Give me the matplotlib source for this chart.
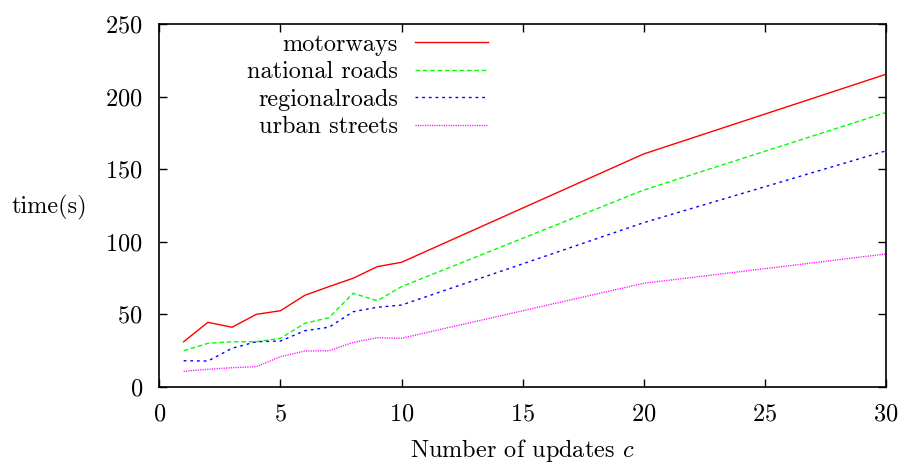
import numpy as np
import matplotlib
matplotlib.use('Agg')
import matplotlib.pyplot as plt

# number of updates
updates = [1, 2, 3, 4, 5, 6, 7, 8, 9, 10, 20, 30]

motorways = [31.0, 44.4, 41.0, 49.9, 52.4, 63.0, 69.0, 74.8, 82.8, 85.8, 160.5, 215.4]
national_roads = [24.8, 29.9, 31.0, 31.0, 33.4, 43.7, 47.6, 64.4, 59.3, 69.0, 135.6, 189.0]
regional_roads = [17.9, 17.7, 26.5, 31.0, 31.5, 38.6, 41.0, 51.7, 54.8, 56.3, 113.1, 162.6]
urban_streets = [10.6, 12.0, 13.1, 13.8, 20.7, 24.6, 24.8, 30.5, 33.8, 33.4, 71.3, 91.5]

plt.rcParams['font.family'] = ['cmr10', 'DejaVu Serif']
plt.rcParams['mathtext.fontset'] = 'cm'
plt.rcParams['axes.formatter.use_mathtext'] = True

fs = 17.5
fig = plt.figure(figsize=(9.06, 4.65), dpi=100)
ax = fig.add_axes([0.176, 0.1684, 0.8016, 0.7796])

ax.plot(updates, motorways, color='#ff0000', lw=1.0, label='motorways')
ax.plot(updates, national_roads, color='#00ff00', lw=1.0, dashes=(3.3, 2.0), label='national roads')
ax.plot(updates, regional_roads, color='#0000ff', lw=1.0, dashes=(2.0, 2.8), label='regionalroads')
ax.plot(updates, urban_streets, color='#ff00ff', lw=1.0, dashes=(0.8, 0.9), label='urban streets')

ax.set_xlim(0, 30)
ax.set_ylim(0, 250)
ax.set_xticks([0, 5, 10, 15, 20, 25, 30])
ax.set_yticks([0, 50, 100, 150, 200, 250])
ax.tick_params(direction='in', length=6, width=1, top=True, right=True, labelsize=fs, pad=12)
ax.tick_params(axis='x', pad=12)
for s in ax.spines.values():
    s.set_linewidth(1.2)

ax.set_xlabel('Number of updates $c$', fontsize=fs, labelpad=8.5)
ax.set_ylabel('time(s)', fontsize=fs, rotation=0, va='center', ha='center')
ax.yaxis.set_label_coords(-0.152, 0.495)

leg = ax.legend(loc='upper right', bbox_to_anchor=(0.452, 0.974), frameon=False, markerfirst=False,
                fontsize=fs, handlelength=3.0, handletextpad=0.7, labelspacing=0.22,
                borderaxespad=0, borderpad=0)

fig.savefig('out.png', dpi=100)
